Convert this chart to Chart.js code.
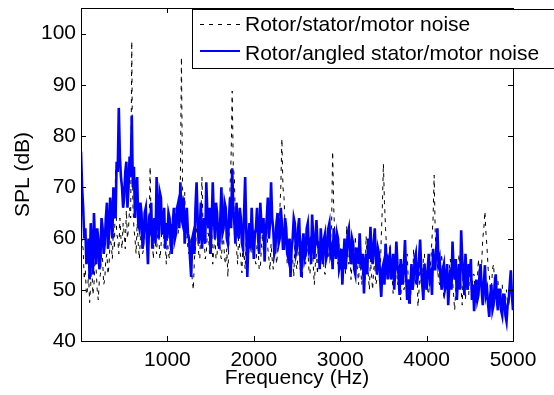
<!DOCTYPE html>
<html>
<head>
<meta charset="utf-8">
<script src="https://cdn.jsdelivr.net/npm/chart.js@4.4.1/dist/chart.umd.min.js"></script>
<style>
  html, body { margin: 0; padding: 0; background: #fff; }
  #wrap { width: 554px; height: 395px; }
</style>
</head>
<body>
<div id="wrap"><canvas id="spl"></canvas></div>
<script>
"use strict"
// Frequency grid (Hz) of the two spectra, 40 bins per row
const freq = [
  0,12.5,25,37.5,50,62.5,75,87.5,100,112.5,125,137.5,150,162.5,175,187.5,200,212.5,225,237.5,250,262.5,275,287.5,300,312.5,325,337.5,350,362.5,375,387.5,400,412.5,425,437.5,450,462.5,475,487.5,
  500,512.5,525,537.5,550,562.5,575,587.5,600,612.5,625,637.5,650,662.5,675,687.5,700,712.5,725,737.5,750,762.5,775,787.5,800,812.5,825,837.5,850,862.5,875,887.5,900,912.5,925,937.5,950,962.5,975,987.5,
  1000,1012.5,1025,1037.5,1050,1062.5,1075,1087.5,1100,1112.5,1125,1137.5,1150,1162.5,1175,1187.5,1200,1212.5,1225,1237.5,1250,1262.5,1275,1287.5,1300,1312.5,1325,1337.5,1350,1362.5,1375,1387.5,1400,1412.5,1425,1437.5,1450,1462.5,1475,1487.5,
  1500,1512.5,1525,1537.5,1550,1562.5,1575,1587.5,1600,1612.5,1625,1637.5,1650,1662.5,1675,1687.5,1700,1712.5,1725,1737.5,1750,1762.5,1775,1787.5,1800,1812.5,1825,1837.5,1850,1862.5,1875,1887.5,1900,1912.5,1925,1937.5,1950,1962.5,1975,1987.5,
  2000,2012.5,2025,2037.5,2050,2062.5,2075,2087.5,2100,2112.5,2125,2137.5,2150,2162.5,2175,2187.5,2200,2212.5,2225,2237.5,2250,2262.5,2275,2287.5,2300,2312.5,2325,2337.5,2350,2362.5,2375,2387.5,2400,2412.5,2425,2437.5,2450,2462.5,2475,2487.5,
  2500,2512.5,2525,2537.5,2550,2562.5,2575,2587.5,2600,2612.5,2625,2637.5,2650,2662.5,2675,2687.5,2700,2712.5,2725,2737.5,2750,2762.5,2775,2787.5,2800,2812.5,2825,2837.5,2850,2862.5,2875,2887.5,2900,2912.5,2925,2937.5,2950,2962.5,2975,2987.5,
  3000,3012.5,3025,3037.5,3050,3062.5,3075,3087.5,3100,3112.5,3125,3137.5,3150,3162.5,3175,3187.5,3200,3212.5,3225,3237.5,3250,3262.5,3275,3287.5,3300,3312.5,3325,3337.5,3350,3362.5,3375,3387.5,3400,3412.5,3425,3437.5,3450,3462.5,3475,3487.5,
  3500,3512.5,3525,3537.5,3550,3562.5,3575,3587.5,3600,3612.5,3625,3637.5,3650,3662.5,3675,3687.5,3700,3712.5,3725,3737.5,3750,3762.5,3775,3787.5,3800,3812.5,3825,3837.5,3850,3862.5,3875,3887.5,3900,3912.5,3925,3937.5,3950,3962.5,3975,3987.5,
  4000,4012.5,4025,4037.5,4050,4062.5,4075,4087.5,4100,4112.5,4125,4137.5,4150,4162.5,4175,4187.5,4200,4212.5,4225,4237.5,4250,4262.5,4275,4287.5,4300,4312.5,4325,4337.5,4350,4362.5,4375,4387.5,4400,4412.5,4425,4437.5,4450,4462.5,4475,4487.5,
  4500,4512.5,4525,4537.5,4550,4562.5,4575,4587.5,4600,4612.5,4625,4637.5,4650,4662.5,4675,4687.5,4700,4712.5,4725,4737.5,4750,4762.5,4775,4787.5,4800,4812.5,4825,4837.5,4850,4862.5,4875,4887.5,4900,4912.5,4925,4937.5,4950,4962.5,4975,4987.5,
  5000
];

// SPL (dB), rotor/stator/motor noise (black dashed)
const statorSpl = [
  62,59,58,52,54,49,50,53,47.5,51,55,49,51,56,54,50,48,52,53,57,56,51,52,56,57,53,55,60,59,56,62,58,73.7,61,60,57,64,60,58,63,
  61,58,65.5,60,62,66,64,98.5,67,62,60,57,63,59,56,60,61,57,58,63,62,58,57,60,74,62,60,56,63,59,57,62,61,56,58,63,64,58,59,55,
  60,57,56,61,63,58,58,62,66,61,61,67,71,95.4,70,66,69,60,62,58,57,60,55,52,50,56,58,62,61,57,56,64,72,62,60,56,57,61,61,57,
  58,62,55,58,61,56,57,61,62,57,56,60,60,56,55,58,52.5,60,70,76,88.8,74,72,63,58,55,61,58,56,53.3,60,57,54,60,59,55,62,58,57,61,
  60,56,55,59,58,54,54,58,61,57,57,60,62,58,56,53.8,59,56,54,58,60,55,57,61,65,70,79.5,70,68,62,58,55,55,58,60,56,56,52.5,59,55,
  54,57,59,54,56,52,61,57,55,59,58,54,53,57,60,55,51,55,57,53,60,56,55,59,58,54,53,57,61,56,57,60,62,77,66,61,60,56,55,59,
  58,55,53,56,57,53,62.5,57,55,58,52,55,58,54,60.5,56,54,51,57,54,51,55,55,52,60.5,56,53,50,56,53,50,54,55,51,52,56,57,53,60,66,
  74.6,67,62,58,56,52,59,55,53,49.3,52,55,56,51,52,55,48,52,55,50,51,54,57,52,50,47,54,51,58,53,51,55,46.7,50,55,51,52,56,57,52,
  53,50,49,53,56,60,64,72.4,61,57,55,52,51,55,57,52,48,52,54,50,50,54,56,51,52,49,46,50,53,50,57,53,50,47,55,51,48,53,52,49,
  55,51,49,53,53,49,47,52,56,52,51,55,60,62,65.3,61,58,54,53,50,50,54,55,51,48,51,52,48,47,50,51,48,46,49,50,47,47,50,52,48,
  49
];

// SPL (dB), rotor/angled stator/motor noise (blue)
const angledSpl = [
  77,70,66,60,62,55,57,60,52,63,58,53,65,59,55,62,60,54,56,64,62,57,59,64,67,58,61,68,65,60,70,66,64,75,73,85.5,76,72,70,66,
  68,73,75,66,70,76,72,84,70,74,64,70,72,63,62,67,65,58,60,65,66,60,55,63,62,67,58,62,64,59,72,65,60,69,68,61,61,66,58,63,
  60,65,64,59,57,63,66,60,61,66,67,62,71,64,63,68,59,63,66,61,60,56,52.5,60,61,57,66,71,64,59,62,67,58,62,64,59,71,65,62,66,
  57,63,71,64,60,67,65,60,58,64,70,61,62,67,66,60,59,64,68,62,73.7,66,63,59,67,62,60,66,64,59,58,65,72,62,52.5,60,63,58,66,61,
  56,61,62,66,60,57,67,63,61,64,55.5,61,64,68,60,63,71,64,62,57,58,63,65,59,60,66,63,58,58,64,62,57,56,60,52.5,58,60,64,63,57,
  58,62,64,57,52.5,59,61,56,57,62,63,58,59,55,64.7,60,56,60,63.6,59,58,54,62,58,55,60,61,56,57,62,63,57,58,54,62,59,56,61,60,54,
  55,58,51,56,60,54,57,61,62,57,55,60,59,54,53,58,58,55,61,56,54,57,49.3,55,57,53,60,56,62.3,57,55,59,62,56,53,58,57,52,48.6,54,
  55,51,59,55,52,56,57,52,54,57,50,54,59.4,55,53,49,56,53,51,55,59.7,53,48,52,47.3,51,55,50,52,56,57,51,53,56,59.8,54,51,48,55,52,
  50,54,57,52,53,49,58,54,54,58,62,55,56,52,50,54,55,50,51,55,47,51,54,50,59.4,54,52,56,48,52,55,50,61.6,56,53,49,57,52,50,55,
  53,56,48,51,45.8,50,52,48,49,53,55,50,47,51,54.8,49,50,47,44.7,49,51,46,47,51,53,48,46,50,50,46,45,49,49,45,43.8,47,48,51,53.8,49,
  46
];

const seriesNames = ['Rotor/stator/motor noise', 'Rotor/angled stator/motor noise'];
const xTicks = [1000, 2000, 3000, 4000, 5000];
const yTicks = [40, 50, 60, 70, 80, 90, 100];

const FONT = "'Liberation Sans', Arial, sans-serif";

// kader, inåtvända ticks och legend i MATLAB-stil
const matlabFrame = {
  id: 'matlabFrame',
  afterDraw(chart) {
    const { ctx, chartArea, scales } = chart;
    const { left, right, top, bottom } = chartArea;
    ctx.save();
    ctx.strokeStyle = '#000';
    ctx.lineWidth = 1;
    ctx.strokeRect(Math.round(left) + 0.5, Math.round(top) + 0.5,
      Math.round(right - left), Math.round(bottom - top));

    ctx.beginPath();
    xTicks.forEach(v => {
      const px = Math.round(scales.x.getPixelForValue(v)) + 0.5;
      ctx.moveTo(px, bottom); ctx.lineTo(px, bottom - 5);
      ctx.moveTo(px, top); ctx.lineTo(px, top + 5);
    });
    yTicks.forEach(v => {
      const py = Math.round(scales.y.getPixelForValue(v)) + 0.5;
      ctx.moveTo(left, py); ctx.lineTo(left + 5, py);
      ctx.moveTo(right, py); ctx.lineTo(right - 5, py);
    });
    ctx.stroke();

    // legend box
    const bx = 192.5, by = 9.5, bw = 400, bh = 59;
    ctx.fillStyle = '#fff';
    ctx.fillRect(bx, by, bw, bh);
    ctx.strokeRect(bx, by, bw, bh);

    const rows = [24.5, 51];
    const textY = [25, 54];
    chart.data.datasets.forEach((ds, i) => {
      ctx.beginPath();
      ctx.strokeStyle = ds.borderColor;
      ctx.lineWidth = i === 0 ? 1 : 2;
      ctx.setLineDash(ds.borderDash || []);
      ctx.moveTo(200, rows[i]);
      ctx.lineTo(240, rows[i]);
      ctx.stroke();
      ctx.setLineDash([]);
      ctx.fillStyle = '#000';
      ctx.font = '21px ' + FONT;
      ctx.textBaseline = 'middle';
      ctx.textAlign = 'left';
      ctx.fillText(ds.label, 245, textY[i]);
    });
    ctx.restore();
  }
};

new Chart(document.getElementById('spl'), {
  type: 'line',
  data: {
    datasets: [
      {
        label: seriesNames[0],
        data: freq.map((f, i) => ({ x: f, y: statorSpl[i] })),
        borderColor: '#000000',
        borderWidth: 1,
        borderDash: [4, 5],
        order: 2
      },
      {
        label: seriesNames[1],
        data: freq.map((f, i) => ({ x: f, y: angledSpl[i] })),
        borderColor: '#0000ff',
        borderWidth: 2.6,
        order: 1
      }
    ]
  },
  options: {
    responsive: true,
    maintainAspectRatio: false,
    animation: false,
    events: [],
    elements: { point: { radius: 0 }, line: { tension: 0 } },
    layout: { padding: { top: 8, right: 41, left: 0, bottom: 0 } },
    plugins: { legend: { display: false }, tooltip: { enabled: false } },
    scales: {
      x: {
        type: 'linear',
        min: 0,
        max: 5000,
        afterBuildTicks: s => { s.ticks = xTicks.map(v => ({ value: v })); },
        afterFit: s => { s.height = 54; s.paddingLeft = 0; s.paddingRight = 0; },
        grid: { display: false, drawTicks: false },
        border: { display: false },
        ticks: {
          color: '#000', padding: 7, maxRotation: 0,
          font: { family: FONT, size: 21 },
          callback: v => String(v)
        },
        title: {
          display: true,
          text: 'Frequency (Hz)',
          color: '#000',
          font: { family: FONT, size: 21 },
          padding: { top: 0, bottom: 4 }
        }
      },
      y: {
        min: 40,
        max: 105,
        afterBuildTicks: s => { s.ticks = yTicks.map(v => ({ value: v })); },
        afterFit: s => { s.width = 81; s.paddingTop = 0; s.paddingBottom = 0; },
        grid: { display: false, drawTicks: false },
        border: { display: false },
        ticks: {
          color: '#000', padding: 5,
          font: { family: FONT, size: 21 },
          callback: v => String(v)
        },
        title: {
          display: true,
          text: 'SPL (dB)',
          color: '#000',
          font: { family: FONT, size: 21 },
          padding: { top: 11, bottom: 0 }
        }
      }
    }
  },
  plugins: [matlabFrame]
});
</script>
</body>
</html>
